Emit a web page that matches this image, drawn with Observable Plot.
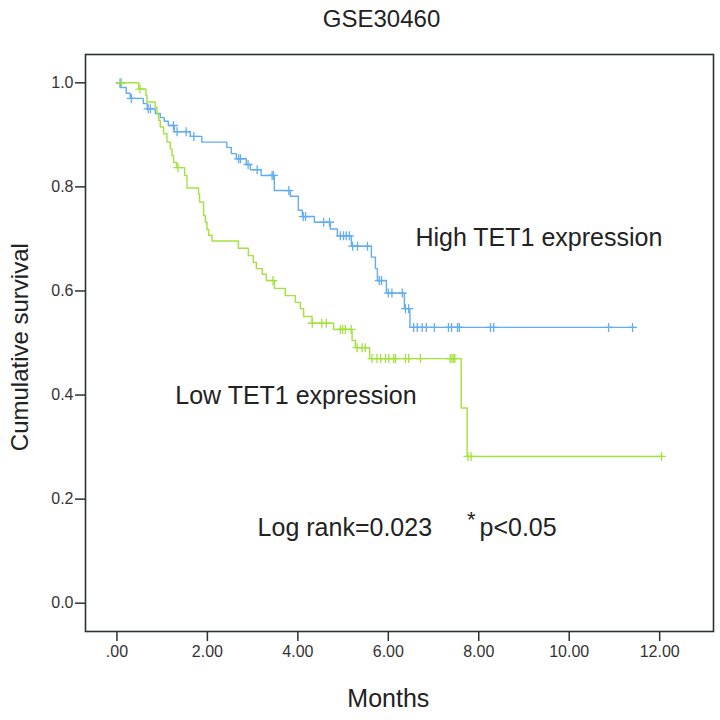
<!DOCTYPE html>
<html>
<head>
<meta charset="utf-8">
<script src="https://cdn.jsdelivr.net/npm/d3@7"></script>
<script src="https://cdn.jsdelivr.net/npm/@observablehq/plot@0.6"></script>
<style>
  html, body { margin: 0; padding: 0; background: #fff; }
</style>
</head>
<body>
<div id="chart"></div>
<script>
// ---- Data ----
const title = "GSE30460";
const xLabel = "Months";
const yLabel = "Cumulative survival";
const xTicks = [0, 2, 4, 6, 8, 10, 12];
const xTickLabels = [".00", "2.00", "4.00", "6.00", "8.00", "10.00", "12.00"];
const yTicks = [0, 0.2, 0.4, 0.6, 0.8, 1.0];

// High TET1 expression: event times (months) and survival after each step
const highTimes = [0.073,0.206,0.294,0.582,0.670,0.847,0.958,1.046,1.135,1.268,1.622,1.876,2.429,2.529,2.64,2.86,2.95,3.19,3.48,3.834,4.011,4.100,4.365,4.719,4.874,5.184,5.626,5.715,5.759,5.958,6.356,6.478];
const highSurv  = [0.991,0.980,0.970,0.960,0.950,0.941,0.933,0.926,0.918,0.906,0.897,0.886,0.876,0.864,0.854,0.843,0.833,0.822,0.793,0.782,0.755,0.743,0.732,0.719,0.706,0.686,0.665,0.643,0.620,0.596,0.566,0.530];
const highCensor = [0.07,0.32,0.69,0.74,1.25,1.33,1.53,1.70,2.69,2.73,2.90,3.10,3.43,3.46,3.80,4.12,4.17,4.57,4.70,4.94,5.01,5.07,5.14,5.21,5.32,5.54,5.80,5.85,6.00,6.08,6.31,6.38,6.45,6.56,6.64,6.75,6.84,7.02,7.33,7.40,7.53,7.57,8.26,8.33,10.87,11.40];

// Low TET1 expression
const lowTimes = [0.482,0.642,0.664,0.847,0.885,0.920,0.958,1.031,1.106,1.179,1.217,1.252,1.323,1.496,1.549,1.805,1.827,1.916,1.954,1.991,2.027,2.102,2.684,2.905,3.015,3.082,3.215,3.303,3.480,3.723,3.945,4.055,4.128,4.314,4.792,5.199,5.272,5.588,7.611,7.743];
const lowSurv  = [0.988,0.976,0.963,0.953,0.940,0.928,0.915,0.902,0.886,0.873,0.860,0.847,0.837,0.822,0.798,0.787,0.771,0.745,0.732,0.718,0.707,0.696,0.682,0.668,0.655,0.643,0.632,0.620,0.605,0.591,0.578,0.566,0.551,0.538,0.526,0.505,0.491,0.470,0.375,0.282];
const lowCensor = [0.10,0.51,1.35,3.45,4.32,4.53,4.63,4.94,4.99,5.05,5.18,5.31,5.42,5.49,5.64,5.75,5.83,5.94,6.01,6.12,6.16,6.38,6.45,6.71,7.37,7.41,7.45,7.47,7.76,7.83,12.04];

const groupNames = ["High TET1 expression", "Low TET1 expression"];
const statText = "Log rank=0.023";
const starText = "*";
const pText = "p<0.05";

// ---- Build tables ----
function curve(times, surv, censor) {
  const pts = [{t: 0, s: 1}];
  times.forEach((t, i) => pts.push({t, s: surv[i]}));
  pts.push({t: d3.max(censor), s: surv[surv.length - 1]});
  return pts;
}
function levelAt(times, surv, t) {
  let s = 1;
  for (let i = 0; i < times.length; i++) if (times[i] <= t) s = surv[i];
  return s;
}
function censorPts(times, surv, censor) {
  return censor.map(t => ({t, s: levelAt(times, surv, t)}));
}
const highLine = curve(highTimes, highSurv, highCensor);
const lowLine = curve(lowTimes, lowSurv, lowCensor);
const highMarks = censorPts(highTimes, highSurv, highCensor);
const lowMarks = censorPts(lowTimes, lowSurv, lowCensor);

const blue = "#62adf2";
const green = "#a2e23f";
const ink = "#2b322f";
const font = "'Liberation Sans', Arial, Helvetica, sans-serif";

const plusSymbol = {
  draw(ctx, size) {
    const r = Math.sqrt(size / Math.PI);
    ctx.moveTo(-r, 0); ctx.lineTo(r, 0);
    ctx.moveTo(0, -r); ctx.lineTo(0, r);
  }
};

const chart = Plot.plot({
  width: 720,
  height: 720,
  marginLeft: 85,
  marginRight: 7,
  marginTop: 54,
  marginBottom: 89,
  style: {fontFamily: font, color: ink, background: "#fff"},
  x: {domain: [-0.695, 13.19]},
  y: {domain: [-0.0544, 1.0544]},
  marks: [
    Plot.axisX({ticks: xTicks, tickFormat: d => xTickLabels[xTicks.indexOf(d)], tickSize: 10, tickPadding: 4, fontSize: 16, strokeWidth: 1.5, label: null, fill: "#333"}),
    Plot.axisY({ticks: yTicks, tickFormat: d3.format(".1f"), tickSize: 10, tickPadding: 2, fontSize: 16, strokeWidth: 1.5, label: null, fill: "#333"}),
    Plot.line(highLine, {x: "t", y: "s", curve: "step-after", stroke: blue, strokeWidth: 1.4}),
    Plot.dot(highMarks, {x: "t", y: "s", symbol: plusSymbol, r: 4.5, stroke: blue, fill: "none", strokeWidth: 1.3}),
    Plot.line(lowLine, {x: "t", y: "s", curve: "step-after", stroke: green, strokeWidth: 1.4}),
    Plot.dot(lowMarks, {x: "t", y: "s", symbol: plusSymbol, r: 4.5, stroke: green, fill: "none", strokeWidth: 1.3}),
    Plot.frame({stroke: ink, strokeWidth: 1.6}),
    Plot.text([groupNames[0]], {x: 6.60, y: 0.702, text: d => d, textAnchor: "start", fontSize: 25, fill: "#222"}),
    Plot.text([groupNames[1]], {x: 1.29, y: 0.3985, text: d => d, textAnchor: "start", fontSize: 25, fill: "#222"}),
    Plot.text([statText], {x: 3.11, y: 0.1449, text: d => d, textAnchor: "start", fontSize: 25, fill: "#222"}),
    Plot.text([starText], {x: 7.74, y: 0.1449, dy: -8, text: d => d, textAnchor: "start", fontSize: 22, fill: "#222"}),
    Plot.text([pText], {x: 8.016, y: 0.1449, text: d => d, textAnchor: "start", fontSize: 25, fill: "#222"}),
    Plot.text([title], {x: 5.85, frameAnchor: "top", lineAnchor: "middle", textAnchor: "middle", dy: -35, text: d => d, fontSize: 24, fill: "#222"}),
    Plot.text([xLabel], {x: 6, frameAnchor: "bottom", lineAnchor: "middle", textAnchor: "middle", dy: 67, text: d => d, fontSize: 25, fill: "#222"}),
    Plot.text([yLabel], {y: 0.492, frameAnchor: "left", lineAnchor: "middle", textAnchor: "middle", dx: -64.7, rotate: -90, text: d => d, fontSize: 24, fill: "#222"})
  ]
});
document.getElementById("chart").appendChild(chart);
</script>
</body>
</html>
